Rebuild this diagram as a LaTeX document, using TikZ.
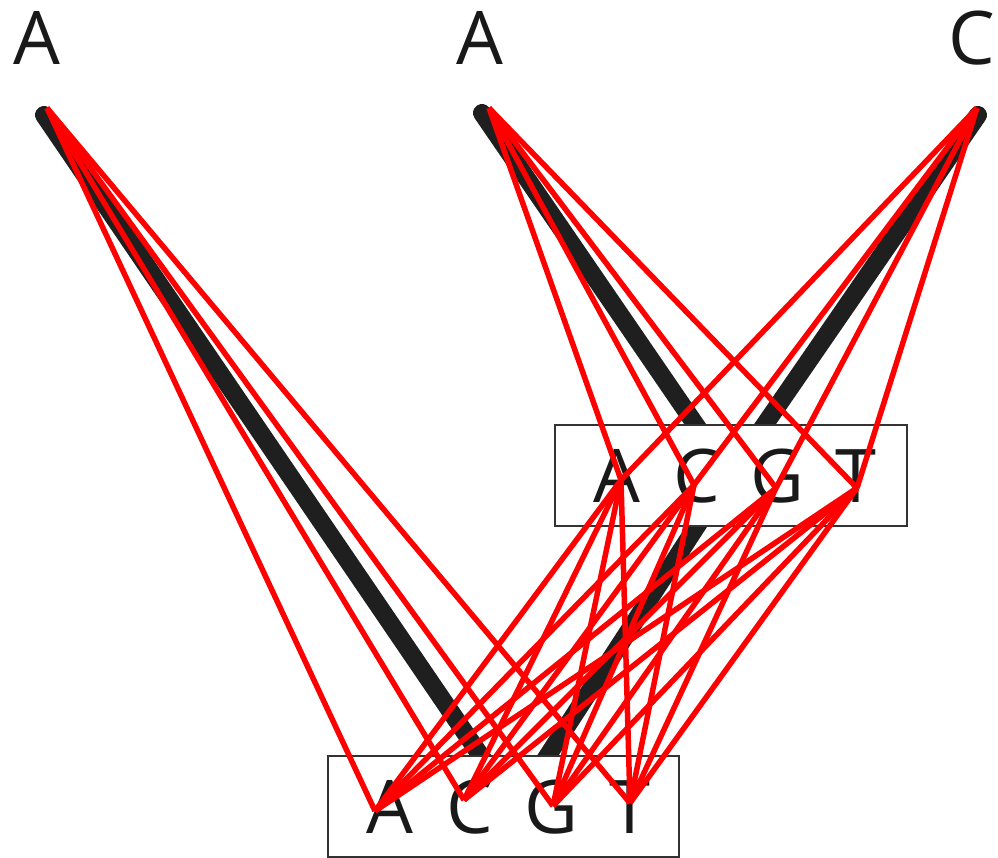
\documentclass[tikz,border=0pt]{standalone}
\usepackage{fontspec}
\setmainfont{Open Sans}
\begin{document}
\begin{tikzpicture}[x=1pt,y=-1pt,
  branch/.style={line width=18pt, draw=black!88, line cap=round},
  rline/.style={line width=5.5pt, draw=red},
  sbox/.style={draw=black!80, line width=2pt, fill=white, inner sep=0pt},
  letter/.style={font=\fontsize{74}{74}\selectfont, inner sep=0pt, anchor=base, text=black!90}]
\useasboundingbox (0,0) rectangle (998,858);
% branch points
\coordinate (b1) at (44,115);
\coordinate (b2) at (482,113);
\coordinate (b3) at (978,115);
\coordinate (bu) at (730,475);
\coordinate (bl) at (515,806);
% black branches
\draw[branch] (b1) -- (bl);
\draw[branch] (b2) -- (bu);
\draw[branch] (b3) -- (bu);
\draw[branch] (bu) -- (bl);
% boxes
\node[sbox, minimum width=352pt, minimum height=101pt] (ubox) at (730.5,475.5) {};
\node[sbox, minimum width=351pt, minimum height=101pt] (lbox) at (503.5,806.5) {};
% top letters
\node[letter] (t1) at (37,65) {A};
\node[letter] (t2) at (480,65) {A};
\node[letter] (t3) at (972,65) {C};
% box letters
\node[letter] (uA) at (617,502) {A};
\node[letter] (uC) at (697,502) {C};
\node[letter] (uG) at (777,502) {G};
\node[letter] (uT) at (856,502) {T};
\node[letter] (lA) at (390,833) {A};
\node[letter] (lC) at (470,833) {C};
\node[letter] (lG) at (551,833) {G};
\node[letter] (lT) at (630,833) {T};
% red endpoints
\coordinate (r1) at (47,108);
\coordinate (r2) at (489,108);
\coordinate (r3) at (977,108);
\coordinate (pA) at (621,480);
\coordinate (pC) at (694,485);
\coordinate (pG) at (776,488);
\coordinate (pT) at (857,488);
\coordinate (qA) at (375,811);
\coordinate (qC) at (464,800);
\coordinate (qG) at (553,806);
\coordinate (qT) at (630,803);
% red lines
\foreach \s in {A,C,G,T} {
  \draw[rline] (r1) -- (q\s);
  \draw[rline] (r2) -- (p\s);
  \draw[rline] (r3) -- (p\s);
  \foreach \t in {A,C,G,T} {
    \draw[rline] (p\s) -- (q\t);
  }
}
\end{tikzpicture}
\end{document}
